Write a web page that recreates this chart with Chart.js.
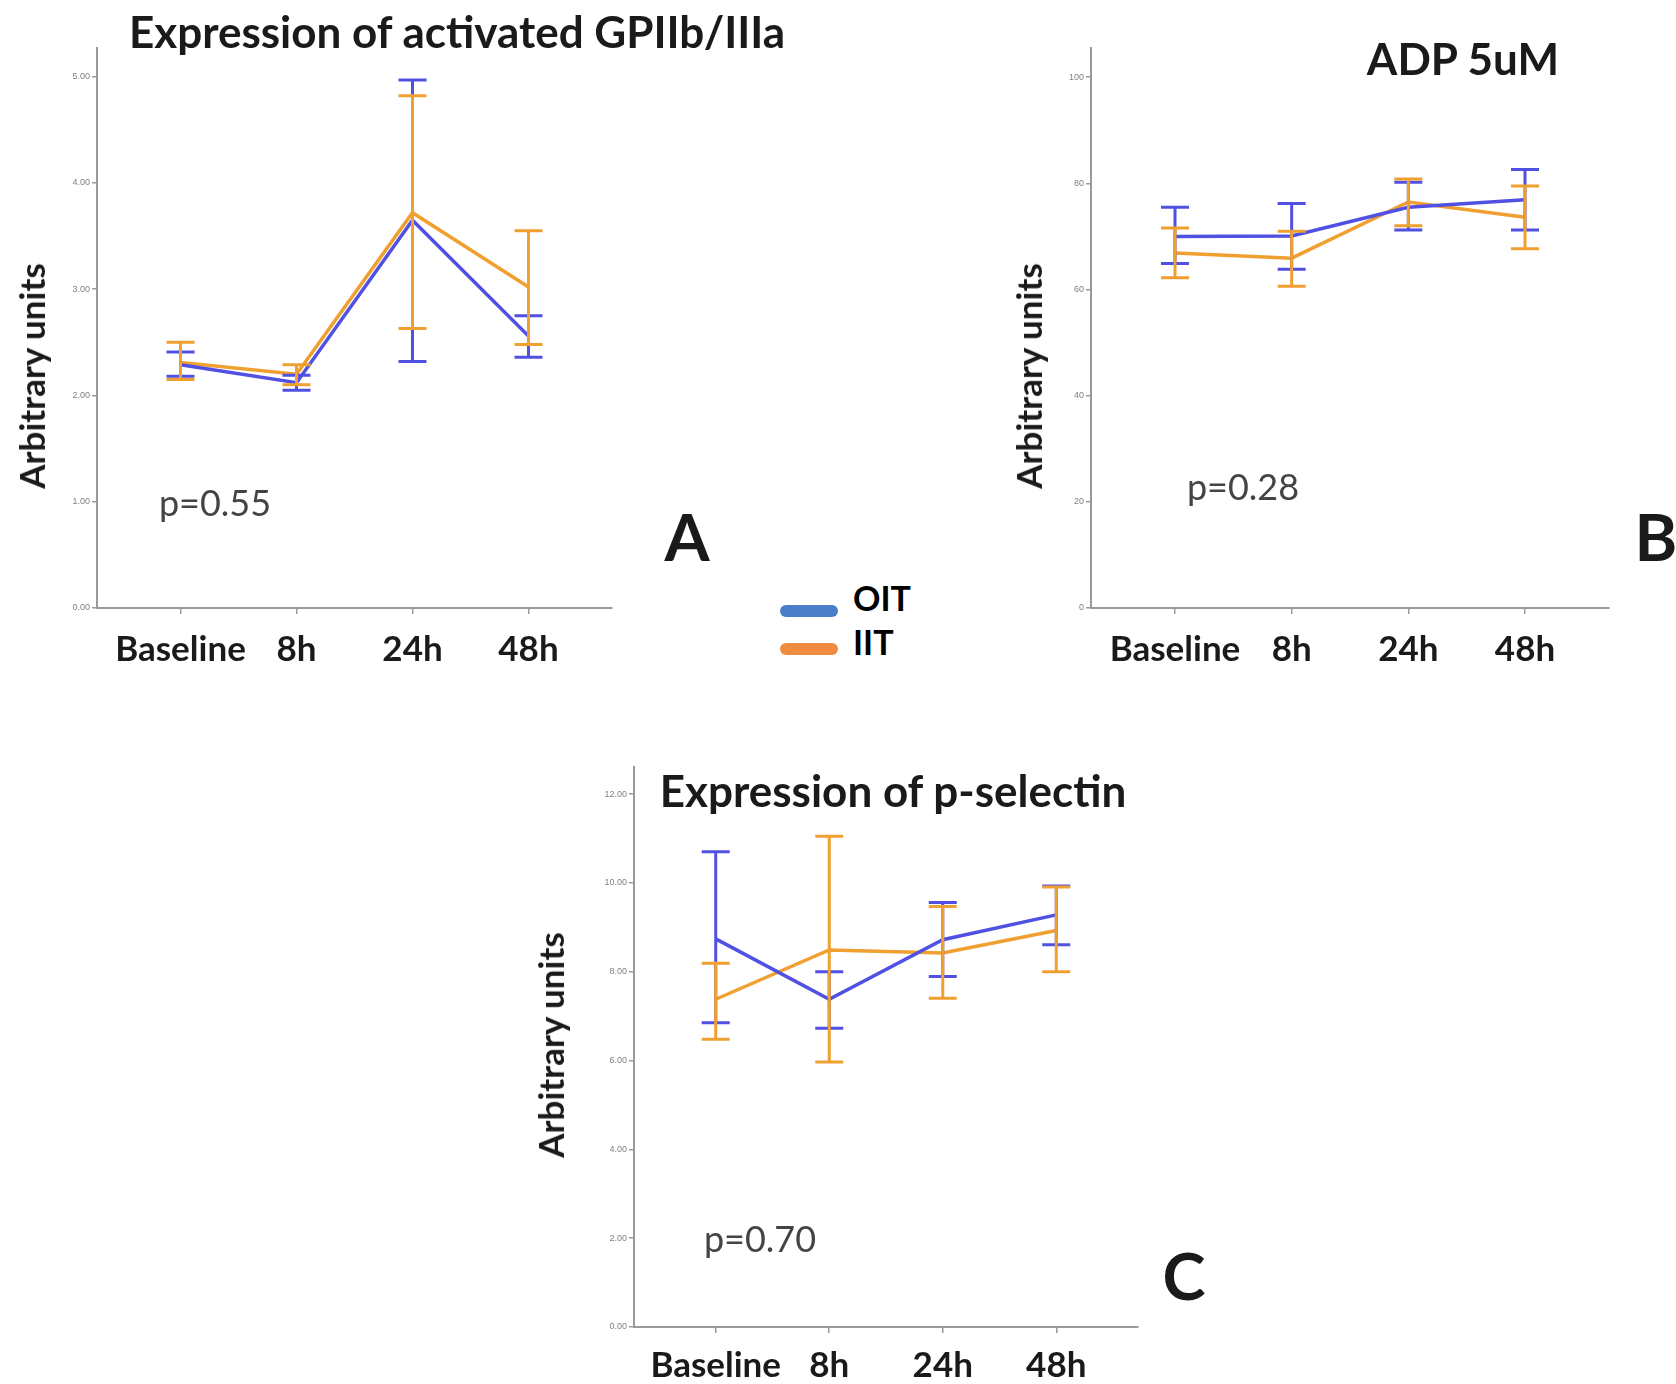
<!DOCTYPE html>
<html lang="en">
<head>
  <meta charset="utf-8">
  <title>Platelet activation OIT vs IIT</title>
  <script src="https://cdn.jsdelivr.net/npm/chart.js@4.4.0/dist/chart.umd.min.js"></script>
  <style>
    body { margin: 0; background: #fff; width: 1676px; height: 1384px; position: relative; overflow: hidden; font-family: Lato, "Open Sans", sans-serif; }
    canvas { position: absolute; }
    .txt { position: absolute; transform: translate(-50%, -50%); white-space: nowrap; color: #1a1a1a; }
    .title { font-weight: 700; font-size: 44px; }
    .pval { font-size: 36px; color: #444; }
    .letter { font-weight: 700; font-size: 65px; }
    .ylab { font-weight: 700; font-size: 35px; transform: translate(-50%, -50%) rotate(-90deg); }
    .leg { position: absolute; width: 58px; height: 12px; border-radius: 6px; }
    .legtxt { position: absolute; font-weight: 700; font-size: 34px; transform: translateY(-50%); }
  </style>
</head>
<body>
  <canvas id="chartA" width="622" height="690" style="left:0;top:0"></canvas>
  <canvas id="chartB" width="620" height="690" style="left:1000px;top:0"></canvas>
  <canvas id="chartC" width="610" height="684" style="left:540px;top:700px"></canvas>

  <div class="txt title" style="left:457px;top:31px">Expression of activated GPIIb/IIIa</div>
  <div class="txt title" style="left:1463px;top:58px">ADP 5uM</div>
  <div class="txt title" style="left:893px;top:790px">Expression of p-selectin</div>

  <div class="txt ylab" style="left:31px;top:376px">Arbitrary units</div>
  <div class="txt ylab" style="left:1028px;top:376px">Arbitrary units</div>
  <div class="txt ylab" style="left:550px;top:1045px">Arbitrary units</div>

  <div class="txt pval" style="left:215px;top:502px">p=0.55</div>
  <div class="txt pval" style="left:1243px;top:486px">p=0.28</div>
  <div class="txt pval" style="left:760px;top:1238px">p=0.70</div>

  <div class="txt letter" style="left:687px;top:536px">A</div>
  <div class="txt letter" style="left:1656px;top:536px">B</div>
  <div class="txt letter" style="left:1184px;top:1275px">C</div>

  <div class="leg" style="left:780px;top:605px;background:#4a7ec8"></div>
  <div class="leg" style="left:780px;top:643px;background:#f08c40"></div>
  <div class="legtxt" style="left:853px;top:597px">OIT</div>
  <div class="legtxt" style="left:853px;top:641px">IIT</div>

  <script>
    const timeLabels = ['Baseline', '8h', '24h', '48h'];
    const seriesNames = ['OIT', 'IIT'];

    // A: activated GPIIb/IIIa
    const gpTicks = [0, 1, 2, 3, 4, 5];
    const gpOitMean = [2.29, 2.12, 3.65, 2.56];
    const gpOitHigh = [2.41, 2.19, 4.97, 2.75];
    const gpOitLow = [2.18, 2.05, 2.32, 2.36];
    const gpIitMean = [2.31, 2.20, 3.72, 3.02];
    const gpIitHigh = [2.50, 2.29, 4.82, 3.55];
    const gpIitLow = [2.15, 2.10, 2.63, 2.48];

    // B: ADP 5uM
    const adpTicks = [0, 20, 40, 60, 80, 100];
    const adpOitMean = [70.0, 70.1, 75.5, 76.9];
    const adpOitHigh = [75.5, 76.2, 80.2, 82.6];
    const adpOitLow = [64.9, 63.8, 71.2, 71.2];
    const adpIitMean = [66.9, 65.9, 76.5, 73.6];
    const adpIitHigh = [71.6, 71.0, 80.8, 79.5];
    const adpIitLow = [62.2, 60.6, 72.0, 67.7];

    // C: p-selectin
    const pselTicks = [0, 2, 4, 6, 8, 10, 12];
    const pselOitMean = [8.74, 7.38, 8.72, 9.28];
    const pselOitHigh = [10.70, 8.00, 9.56, 9.93];
    const pselOitLow = [6.85, 6.73, 7.89, 8.61];
    const pselIitMean = [7.38, 8.49, 8.42, 8.93];
    const pselIitHigh = [8.19, 11.05, 9.47, 9.91];
    const pselIitLow = [6.48, 5.97, 7.40, 8.00];

    const oitColor = '#5050e2';
    const iitColor = '#f0a030';
    const axisColor = '#9a9a9a';

    // error bars, drawn through the chart's own scales
    const errorBars = {
      id: 'errorBars',
      afterDatasetsDraw(chart) {
        const ctx = chart.ctx;
        const xs = chart.scales.x, ys = chart.scales.y;
        chart.data.datasets.forEach(ds => {
          ctx.save();
          ctx.strokeStyle = ds.borderColor;
          ctx.lineWidth = 3;
          ds.data.forEach((p, i) => {
            const x = xs.getPixelForValue(p.x);
            const yh = ys.getPixelForValue(ds.high[i]);
            const yl = ys.getPixelForValue(ds.low[i]);
            ctx.beginPath();
            ctx.moveTo(x, yh); ctx.lineTo(x, yl);
            ctx.moveTo(x - 14, yh); ctx.lineTo(x + 14, yh);
            ctx.moveTo(x - 14, yl); ctx.lineTo(x + 14, yl);
            ctx.stroke();
          });
          ctx.restore();
        });
      }
    };

    function makeChart(id, o) {
      const pts = arr => arr.map((v, i) => ({ x: i, y: v }));
      const ds = (name, color, mean, high, low) => ({
        label: name, data: pts(mean), high: high, low: low,
        borderColor: color, borderWidth: 3.5, pointRadius: 0, tension: 0
      });
      return new Chart(document.getElementById(id), {
        type: 'line',
        data: {
          datasets: [
            ds(seriesNames[0], oitColor, o.oit[0], o.oit[1], o.oit[2]),
            ds(seriesNames[1], iitColor, o.iit[0], o.iit[1], o.iit[2])
          ]
        },
        options: {
          responsive: false,
          animation: false,
          layout: { padding: { top: o.top, right: o.right, left: 0, bottom: 0 } },
          plugins: { legend: { display: false }, tooltip: { enabled: false } },
          scales: {
            x: {
              type: 'linear', min: -0.72, max: 3.72,
              afterFit: s => { s.height = o.xh; },
              afterBuildTicks: s => { s.ticks = timeLabels.map((t, i) => ({ value: i })); },
              grid: { drawOnChartArea: false, tickLength: 6, color: axisColor, lineWidth: 1.5 },
              border: { color: axisColor, width: 2 },
              ticks: {
                callback: v => timeLabels[v],
                padding: o.xpad, color: '#1a1a1a', maxRotation: 0, autoSkip: false,
                font: { family: 'Lato', weight: 'bold', size: 35 }
              }
            },
            y: {
              min: 0, max: o.max,
              afterFit: s => { s.width = o.yw; },
              afterBuildTicks: s => { s.ticks = o.ticks.map(v => ({ value: v })); },
              grid: { drawOnChartArea: false, tickLength: 5, color: axisColor, lineWidth: 1.5 },
              border: { color: axisColor, width: 2 },
              ticks: {
                callback: v => o.fmt(v), padding: 2, color: '#808080',
                font: { family: 'Liberation Sans', size: 9 }
              }
            }
          }
        },
        plugins: [errorBars]
      });
    }

    makeChart('chartA', {
      oit: [gpOitMean, gpOitHigh, gpOitLow], iit: [gpIitMean, gpIitHigh, gpIitLow],
      ticks: gpTicks, max: 5.27, fmt: v => v.toFixed(2),
      top: 48, right: 10, yw: 97, xh: 82, xpad: 15
    });
    makeChart('chartB', {
      oit: [adpOitMean, adpOitHigh, adpOitLow], iit: [adpIitMean, adpIitHigh, adpIitLow],
      ticks: adpTicks, max: 105.5, fmt: v => String(v),
      top: 48, right: 11, yw: 91, xh: 82, xpad: 15
    });
    makeChart('chartC', {
      oit: [pselOitMean, pselOitHigh, pselOitLow], iit: [pselIitMean, pselIitHigh, pselIitLow],
      ticks: pselTicks, max: 12.61, fmt: v => v.toFixed(2),
      top: 67, right: 12, yw: 94, xh: 57, xpad: 12
    });
  </script>
</body>
</html>
